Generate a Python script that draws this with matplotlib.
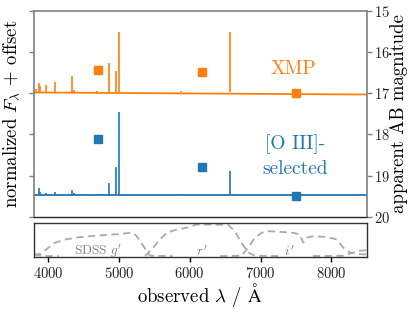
import matplotlib
matplotlib.use('Agg')
import matplotlib.pyplot as plt

plt.rcParams['font.family'] = ['cmr10', 'DejaVu Serif']
plt.rcParams['mathtext.fontset'] = 'cm'
plt.rcParams['axes.formatter.use_mathtext'] = True

# Spectra: continuum level and emission lines (rest wavelengths, peak above continuum)
cont_wl = [3800, 8500]
xmp_cont = [3.02, 2.97]
oiii_cont = [0.53, 0.53]

line_wl = [3835, 3869, 3889, 3968, 4102, 4340, 4363, 4471, 4686, 4861, 4959, 5007, 5577, 5876, 6563]
xmp_peaks = [0.08, 0.22, 0.15, 0.18, 0.25, 0.40, 0.05, 0.02, 0.03, 0.71, 0.52, 1.46, 0.02, 0.03, 1.47]
oiii_peaks = [0.03, 0.18, 0.06, 0.05, 0.07, 0.12, 0.05, 0.02, 0.02, 0.28, 0.67, 2.02, 0.02, 0.03, 0.58]

# Photometry (g', r', i')
phot_wl = [4700, 6170, 7495]
xmp_mag = [16.43, 16.49, 17.0]
oiii_mag = [18.10, 18.80, 19.49]

# SDSS filter curves
u_wl = [3800, 3850, 3900, 4000, 4150]
u_t = [0.06, 0.03, 0.01, 0.0, 0.0]
g_wl = [3800, 3900, 4000, 4090, 4230, 4420, 4660, 4990, 5120, 5200, 5250, 5345, 5415, 5450, 5760]
g_t = [0.04, 0.07, 0.25, 0.40, 0.50, 0.57, 0.62, 0.67, 0.70, 0.71, 0.61, 0.31, 0.06, 0.01, 0.0]
r_wl = [5370, 5485, 5580, 5675, 5815, 6000, 6080, 6540, 6636, 6730, 6825, 6920, 7250]
r_t = [0.0, 0.26, 0.51, 0.71, 0.81, 0.88, 0.96, 0.96, 0.76, 0.41, 0.11, 0.01, 0.0]
i_wl = [6430, 6733, 6825, 6920, 7015, 7110, 7275, 7460, 7557, 7604, 7650, 7745, 7933, 8074, 8168, 8263, 8400, 8500]
i_t = [0.0, 0.01, 0.26, 0.56, 0.71, 0.76, 0.74, 0.71, 0.66, 0.41, 0.56, 0.61, 0.58, 0.51, 0.26, 0.11, 0.06, 0.05]
z_wl = [7740, 8170, 8300, 8400, 8500]
z_t = [0.0, 0.01, 0.10, 0.16, 0.18]

orange = '#ff7f0e'
blue = '#1f77b4'
spine_grey = '#7f7f7f'

fig = plt.figure(figsize=(4.16, 3.12), dpi=100)
ax = fig.add_axes([0.0817, 0.3054, 0.7998, 0.6593])
axm = ax.twinx()
axf = fig.add_axes([0.0817, 0.1772, 0.7998, 0.1071], sharex=ax)

# spectra
for cont, peaks, col in [(xmp_cont, xmp_peaks, orange), (oiii_cont, oiii_peaks, blue)]:
    ax.plot(cont_wl, cont, color=col, lw=1.3)
    base = [cont[0]] * len(line_wl)
    top = [b + p for b, p in zip(base, peaks)]
    ax.vlines(line_wl, base, top, color=col, lw=1.2)

ax.set_xlim(3800, 8500)
ax.set_ylim(0, 5)
ax.set_yticks([0, 1, 2, 3, 4, 5])
ax.set_yticklabels([])
ax.tick_params(axis='y', direction='out', length=3.5, width=1, color=spine_grey)
ax.tick_params(axis='x', bottom=False, labelbottom=False)
for s in ['left', 'top', 'right']:
    ax.spines[s].set_color(spine_grey)
    ax.spines[s].set_linewidth(1.2)
ax.spines['bottom'].set_color('#222222')
ax.spines['bottom'].set_linewidth(1.0)
ax.set_ylabel(r'normalized $F_\lambda$ + offset', fontsize=13.5)
ax.yaxis.set_label_coords(-0.04, 0.5)

# photometry on the magnitude axis
axm.plot(phot_wl, xmp_mag, 's', color=orange, ms=6, ls='none')
axm.plot(phot_wl, oiii_mag, 's', color=blue, ms=6, ls='none')
axm.set_ylim(20, 15)
axm.set_yticks([15, 16, 17, 18, 19, 20])
axm.tick_params(axis='y', direction='out', length=3.5, width=1, color=spine_grey,
                labelsize=10.5, labelcolor='#222222', pad=2)
for s in axm.spines.values():
    s.set_visible(False)
axm.set_ylabel('apparent AB magnitude', fontsize=13.5, rotation=90)
axm.yaxis.set_label_coords(1.071, 0.5)

ax.text(7470, 3.6, 'XMP', color=orange, fontsize=14, ha='center', va='center')
ax.text(7490, 1.47, '[O III]-\nselected', color=blue, fontsize=14, ha='center', va='center',
        linespacing=1.4)

# filter curves
for wl, t in [(u_wl, u_t), (g_wl, g_t), (r_wl, r_t), (i_wl, i_t), (z_wl, z_t)]:
    axf.plot(wl, t, color='#aaaaaa', lw=1.3, ls=(0, (4, 2.5)))
axf.set_ylim(-0.02, 1.0)
axf.set_yticks([])
axf.text(4700, 0.14, r"SDSS $g'$", color='#808080', fontsize=9.5, ha='center', va='center')
axf.text(6170, 0.14, r"$r'$", color='#808080', fontsize=9.5, ha='center', va='center')
axf.text(7400, 0.14, r"$i'$", color='#808080', fontsize=9.5, ha='center', va='center')
for s in axf.spines.values():
    s.set_color('#333333')
    s.set_linewidth(1.0)
axf.set_xticks([4000, 5000, 6000, 7000, 8000])
axf.tick_params(axis='x', direction='out', length=3.5, width=1, labelsize=10.5,
                labelcolor='#222222', pad=3)
axf.set_xlim(3800, 8500)
axf.set_xlabel(r'observed $\lambda$ / $\mathrm{\AA}$', fontsize=13.5, labelpad=0)

fig.savefig('out.png', dpi=100)
